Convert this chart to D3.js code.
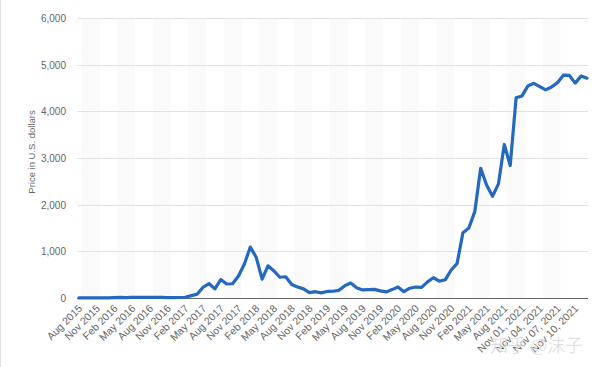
<!DOCTYPE html>
<html>
<head>
<meta charset="utf-8">
<script src="https://cdn.jsdelivr.net/npm/d3@7"></script>
<style>
  body { margin: 0; background: #fff; }
  svg { display: block; font-family: "Liberation Sans", Arial, sans-serif; }
</style>
</head>
<body>
<div id="chart"></div>
<script>
// Monthly prices Aug 2015 - Oct 2021, then daily Nov 01 - Nov 12, 2021
const monthStart = new Date(2015, 7, 1);
const monthEnd = new Date(2021, 10, 1);
const dayStart = new Date(2021, 10, 1);
const dayEnd = new Date(2021, 10, 13);

const prices = [
  1.2, 0.9, 0.9, 0.9, 0.9,
  2.2, 6.3, 11.4, 8.8, 14, 12.3, 12.7, 11.5, 13.2, 11.3, 8.7, 8.2,
  10.7, 15.7, 50, 80, 230, 310, 195, 395, 300, 305, 470, 730,
  1090, 870, 405, 690, 580, 445, 455, 290, 235, 195, 115, 135,
  110, 140, 145, 165, 265, 320, 220, 172, 178, 185, 152, 130,
  180, 235, 135, 210, 235, 228, 345, 434, 360, 390, 600, 737,
  1400, 1500, 1850, 2780, 2420, 2180, 2440, 3290, 2840, 4290,
  4330, 4545, 4600, 4530, 4460, 4520, 4615, 4775, 4770, 4605, 4755, 4710
];

const yTicks = [0, 1000, 2000, 3000, 4000, 5000, 6000];
const tickEvery = 3;

const fmtMonth = d3.timeFormat('%b %Y');
const fmtDay = d3.timeFormat('%b %d, %Y');
const categories = d3.timeMonth.range(monthStart, monthEnd).map(fmtMonth)
  .concat(d3.timeDay.range(dayStart, dayEnd).map(fmtDay));

const data = categories.map((c, i) => ({ label: c, i, value: prices[i] }));

const width = 600, height = 367;
const plot = { left: 79, right: 587, top: 18, bottom: 298 };

const svg = d3.select('#chart').append('svg')
  .attr('width', width)
  .attr('height', height);

svg.append('rect').attr('width', width).attr('height', height).attr('fill', '#fff');
svg.append('line')
  .attr('x1', 0.5).attr('x2', 0.5).attr('y1', 0).attr('y2', height)
  .attr('stroke', '#e2e2e2');

const x = d3.scalePoint()
  .domain(d3.range(data.length))
  .range([plot.left, plot.right]);

const y = d3.scaleLinear()
  .domain([0, 6000])
  .range([plot.bottom, plot.top]);

const step = x.step();

// alternating column bands
const bandStarts = d3.range(0, data.length - 3, tickEvery * 2);
svg.append('g').selectAll('rect')
  .data(bandStarts)
  .enter().append('rect')
  .attr('x', d => x(d) + step * 0.5)
  .attr('y', plot.top)
  .attr('width', step * tickEvery)
  .attr('height', plot.bottom - plot.top)
  .attr('fill', '#fafafa');

// horizontal grid
svg.append('g').selectAll('line')
  .data(yTicks.slice(1))
  .enter().append('line')
  .attr('x1', plot.left - 2).attr('x2', plot.right + 1)
  .attr('y1', d => Math.round(y(d)) + 0.5)
  .attr('y2', d => Math.round(y(d)) + 0.5)
  .attr('stroke', '#e2e2e2');

// y axis labels
svg.append('g').selectAll('text')
  .data(yTicks)
  .enter().append('text')
  .attr('x', 66)
  .attr('y', d => y(d) + 4)
  .attr('text-anchor', 'end')
  .style('font-size', '10px')
  .attr('fill', '#666')
  .text(d3.format(','));

svg.append('text')
  .attr('transform', `translate(35, 152) rotate(-90)`)
  .attr('text-anchor', 'middle')
  .style('font-size', '9.5px')
  .attr('fill', '#666')
  .text('Price in U.S. dollars');

// baseline
svg.append('line')
  .attr('x1', plot.left - 2).attr('x2', plot.right + 1)
  .attr('y1', plot.bottom + 0.5).attr('y2', plot.bottom + 0.5)
  .attr('stroke', '#666').attr('stroke-width', 1.2);

// x labels
svg.append('g').selectAll('text')
  .data(data.filter(d => d.i % tickEvery === 0))
  .enter().append('text')
  .attr('transform', d => `translate(${x(d.i) + 4}, 309) rotate(-45)`)
  .attr('text-anchor', 'end')
  .style('font-size', '10.5px')
  .attr('fill', '#666')
  .text(d => d.label);

// price line
const line = d3.line()
  .x(d => x(d.i))
  .y(d => y(d.value));

svg.append('path')
  .datum(data)
  .attr('fill', 'none')
  .attr('stroke', '#2468c0')
  .attr('stroke-width', 3.2)
  .attr('stroke-linejoin', 'round')
  .attr('stroke-linecap', 'round')
  .attr('d', line);

// watermark
svg.append('text')
  .attr('x', 490).attr('y', 352)
  .style('font-family', '"Noto Sans CJK SC", sans-serif')
  .style('font-size', '18px')
  .attr('fill', 'rgba(200,200,200,0.7)')
  .attr('stroke', 'rgba(255,255,255,0.6)')
  .attr('stroke-width', 0.6)
  .text('知乎 @沫子');
</script>
</body>
</html>
